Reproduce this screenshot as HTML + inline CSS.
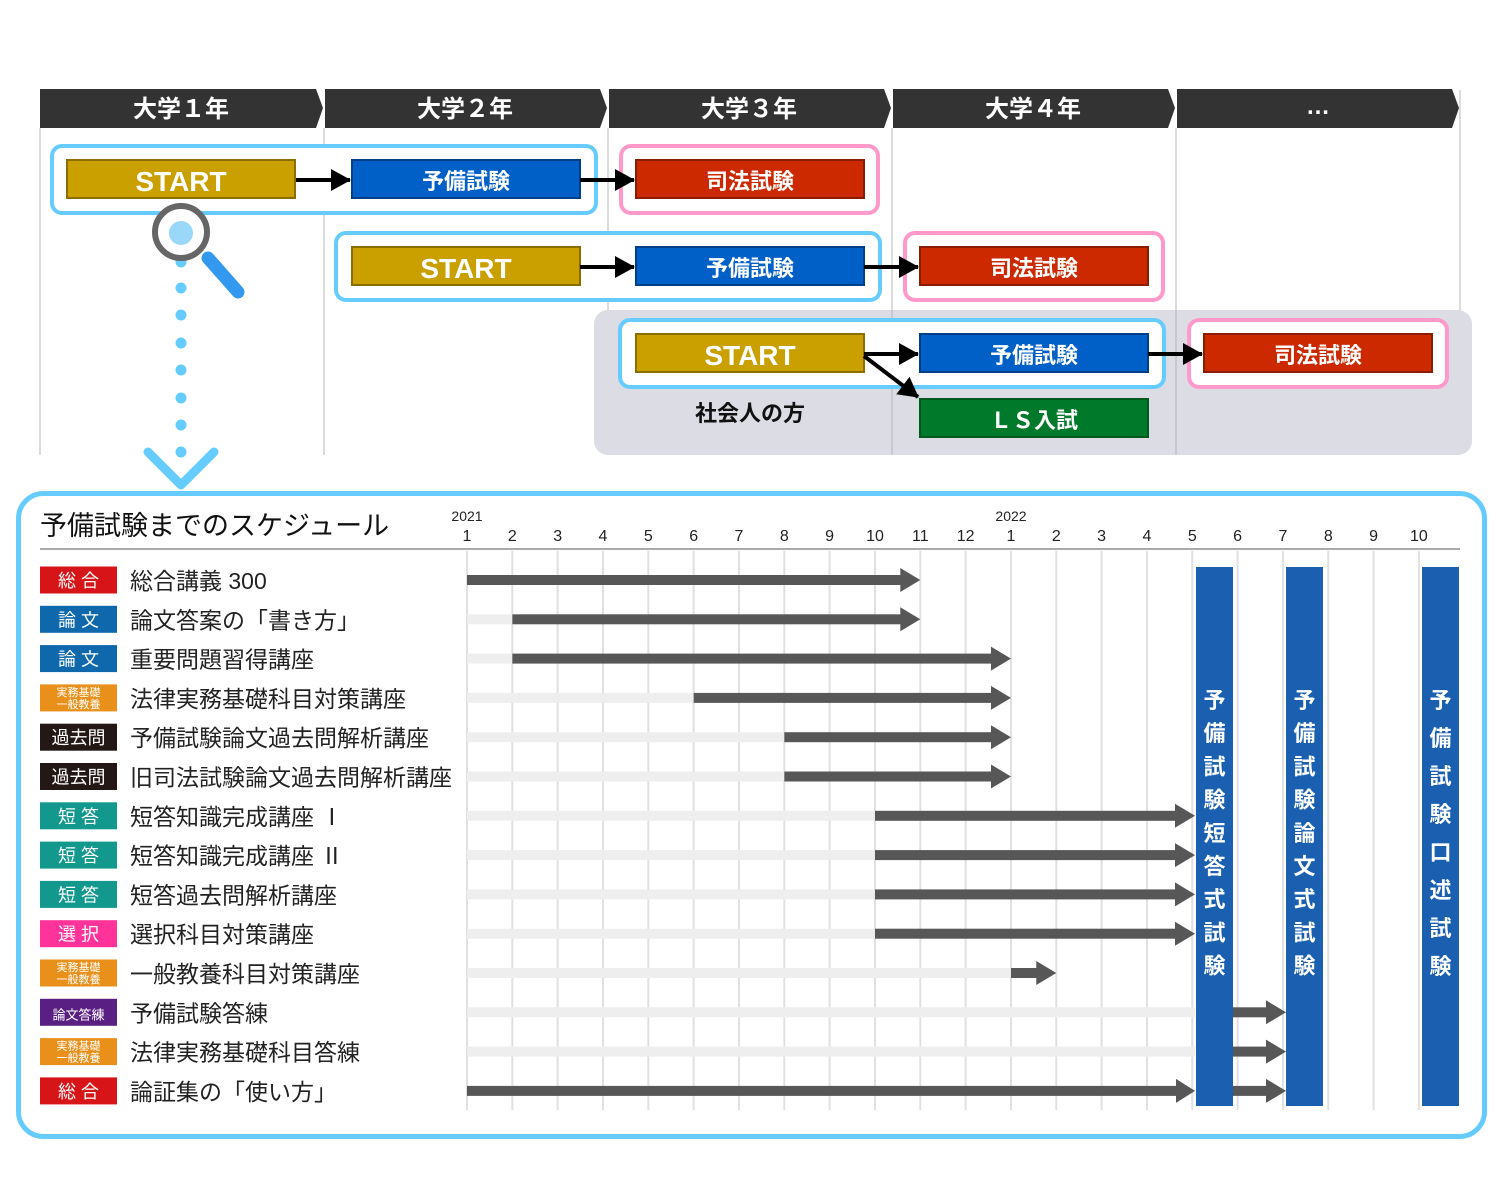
<!DOCTYPE html>
<html><head><meta charset="utf-8"><style>
html,body{margin:0;padding:0;background:#fff}
svg{display:block}
text{font-family:"Liberation Sans","Noto Sans CJK JP",sans-serif}
.b{font-weight:bold}
</style></head><body>
<svg width="1500" height="1184" viewBox="0 0 1500 1184" xmlns="http://www.w3.org/2000/svg">
<defs>
<marker id="ah" markerWidth="20" markerHeight="22" refX="19" refY="11" orient="auto" markerUnits="userSpaceOnUse" viewBox="0 0 20 22"><path d="M0,0 L20,11 L0,22z" fill="#000"/></marker>
</defs>
<g stroke="#dcdcdc" stroke-width="2">
<line x1="40" y1="128" x2="40" y2="455"/><line x1="324" y1="128" x2="324" y2="455"/>
<line x1="608" y1="128" x2="608" y2="455"/><line x1="892" y1="128" x2="892" y2="455"/>
<line x1="1176" y1="128" x2="1176" y2="455"/><line x1="1460" y1="90" x2="1460" y2="455"/>
</g>
<g fill="#333">
<path d="M40,89 H316 L323,108 L316,128 H40z"/>
<path d="M325,89 H600 L607,108 L600,128 H325z"/>
<path d="M609,89 H884 L891,108 L884,128 H609z"/>
<path d="M893,89 H1168 L1175,108 L1168,128 H893z"/>
<path d="M1177,89 H1452 L1459,108 L1452,128 H1177z"/>
</g>
<g fill="#fff" font-size="24" class="b" text-anchor="middle">
<text x="181" y="117" class="b">大学１年</text>
<text x="465" y="117" class="b">大学２年</text>
<text x="749" y="117" class="b">大学３年</text>
<text x="1033" y="117" class="b">大学４年</text>
<text x="1318" y="114" class="b">…</text>
</g>
<rect x="594" y="310" width="878" height="145" rx="14" fill="#dcdce4"/>
<line x1="892" y1="310" x2="892" y2="455" stroke="#c8c8d0" stroke-width="2"/>
<line x1="1176" y1="310" x2="1176" y2="455" stroke="#c8c8d0" stroke-width="2"/>
<g fill="#fff" stroke-width="4">
<rect x="52" y="146" width="544" height="67" rx="10" stroke="#66ccff"/>
<rect x="621" y="146" width="257" height="67" rx="10" stroke="#ff99cc"/>
<rect x="336" y="233" width="544" height="67" rx="10" stroke="#66ccff"/>
<rect x="905" y="233" width="258" height="67" rx="10" stroke="#ff99cc"/>
<rect x="620" y="320" width="544" height="67" rx="10" stroke="#66ccff"/>
<rect x="1189" y="320" width="258" height="67" rx="10" stroke="#ff99cc"/>
</g>
<g stroke-width="2">
<rect x="67" y="160" width="228" height="38" fill="#c9a000" stroke="#8a6e00"/>
<rect x="352" y="160" width="228" height="38" fill="#0060c8" stroke="#003f88"/>
<rect x="636" y="160" width="228" height="38" fill="#cc2900" stroke="#8a1c00"/>
<rect x="352" y="247" width="228" height="38" fill="#c9a000" stroke="#8a6e00"/>
<rect x="636" y="247" width="228" height="38" fill="#0060c8" stroke="#003f88"/>
<rect x="920" y="247" width="228" height="38" fill="#cc2900" stroke="#8a1c00"/>
<rect x="636" y="334" width="228" height="38" fill="#c9a000" stroke="#8a6e00"/>
<rect x="920" y="334" width="228" height="38" fill="#0060c8" stroke="#003f88"/>
<rect x="1204" y="334" width="228" height="38" fill="#cc2900" stroke="#8a1c00"/>
<rect x="920" y="399" width="228" height="38" fill="#007a2a" stroke="#005a1e"/>
</g>
<g fill="#fff" text-anchor="middle">
<text x="181" y="191" font-size="28" class="b">START</text>
<text x="466" y="189" font-size="22" class="b">予備試験</text>
<text x="750" y="189" font-size="22" class="b">司法試験</text>
<text x="466" y="278" font-size="28" class="b">START</text>
<text x="750" y="276" font-size="22" class="b">予備試験</text>
<text x="1034" y="276" font-size="22" class="b">司法試験</text>
<text x="750" y="365" font-size="28" class="b">START</text>
<text x="1034" y="363" font-size="22" class="b">予備試験</text>
<text x="1318" y="363" font-size="22" class="b">司法試験</text>
<text x="1034" y="428" font-size="22" class="b">ＬＳ入試</text>
</g>
<text x="750" y="421" font-size="22" class="b" text-anchor="middle" fill="#111">社会人の方</text>
<g stroke="#000" stroke-width="4" marker-end="url(#ah)">
<line x1="296" y1="180" x2="350" y2="180"/>
<line x1="580" y1="180" x2="634" y2="180"/>
<line x1="580" y1="267" x2="634" y2="267"/>
<line x1="864" y1="267" x2="918" y2="267"/>
<line x1="864" y1="354" x2="918" y2="354"/>
<line x1="1148" y1="354" x2="1202" y2="354"/>
<line x1="864" y1="356" x2="918" y2="397"/>
</g>
<g fill="#66ccff">
<circle cx="181" cy="262" r="5.5"/><circle cx="181" cy="288" r="5.5"/><circle cx="181" cy="315" r="5.5"/><circle cx="181" cy="343" r="5.5"/><circle cx="181" cy="370" r="5.5"/><circle cx="181" cy="398" r="5.5"/><circle cx="181" cy="425" r="5.5"/><circle cx="181" cy="452" r="5.5"/>
</g>
<path d="M148,452 L181,485 L214,452" fill="none" stroke="#66ccff" stroke-width="9" stroke-linecap="round" stroke-linejoin="round"/>
<line x1="208" y1="258" x2="238" y2="292" stroke="#3399ee" stroke-width="13" stroke-linecap="round"/>
<circle cx="181" cy="232" r="26" fill="#fff" stroke="#666" stroke-width="6"/>
<circle cx="181" cy="233" r="12" fill="#99d8f8"/>
<rect x="18.5" y="493.5" width="1466" height="643" rx="25" fill="#fff" stroke="#66ccff" stroke-width="5"/>
<text x="40" y="535" font-size="27" fill="#111">予備試験までのスケジュール</text>
<line x1="40" y1="549" x2="1460" y2="549" stroke="#aaa" stroke-width="2"/>
<g stroke="#e0e0e0" stroke-width="2" id="grid"></g>
<g font-size="16" fill="#222" text-anchor="middle" id="months"></g>
<text x="467" y="521" font-size="14" fill="#222" text-anchor="middle">2021</text>
<text x="1011" y="521" font-size="14" fill="#222" text-anchor="middle">2022</text>
<g id="rows"></g>
<rect x="1196" y="567" width="37" height="539" fill="#1a5fb0"/>
<rect x="1286" y="567" width="37" height="539" fill="#1a5fb0"/>
<rect x="1422" y="567" width="37" height="539" fill="#1a5fb0"/>
<g id="vt" fill="#fff" font-size="22" class="b" text-anchor="middle"></g>
</svg>
<script>
var NS="http://www.w3.org/2000/svg";
function el(p,t,a,txt){var e=document.createElementNS(NS,t);for(var k in a)e.setAttribute(k,a[k]);if(txt!=null)e.textContent=txt;document.getElementById(p).appendChild(e);return e;}
var mx=function(i){return 467+i*45.33;};
var lbl=[1,2,3,4,5,6,7,8,9,10,11,12,1,2,3,4,5,6,7,8,9,10];
for(var i=0;i<22;i++){el("grid","line",{x1:mx(i),y1:551,x2:mx(i),y2:1110});el("months","text",{x:mx(i),y:541},lbl[i]);}
var C={sg:"#d71518",rb:"#0f68ac",jm:"#e8901a",kk:"#231815",td:"#12988c",sn:"#ff3399",rt:"#5a1f82"};
var rows=[
["sg","総 合","総合講義 300",0,10],
["rb","論 文","論文答案の「書き方」",1,10],
["rb","論 文","重要問題習得講座",1,12],
["jm","","法律実務基礎科目対策講座",5,12],
["kk","過去問","予備試験論文過去問解析講座",7,12],
["kk","過去問","旧司法試験論文過去問解析講座",7,12],
["td","短 答","短答知識完成講座 Ⅰ",9,16.06],
["td","短 答","短答知識完成講座 Ⅱ",9,16.06],
["td","短 答","短答過去問解析講座",9,16.06],
["sn","選 択","選択科目対策講座",9,16.06],
["jm","","一般教養科目対策講座",12,13],
["rt","論文答練","予備試験答練",16.86,18.06],
["jm","","法律実務基礎科目答練",16.86,18.06],
["sg","総 合","論証集の「使い方」",0,16.06]];
rows.forEach(function(r,i){
 var y=580+i*39.3;
 el("rows","rect",{x:40,y:y-13.5,width:77,height:27,fill:C[r[0]]});
 if(r[0]=="jm"){
  el("rows","text",{x:78.5,y:y-2,"font-size":11,fill:"#fff","text-anchor":"middle"},"実務基礎");
  el("rows","text",{x:78.5,y:y+10,"font-size":11,fill:"#fff","text-anchor":"middle"},"一般教養");
 } else {
  el("rows","text",{x:78.5,y:y+7,"font-size":r[1].length>3?13:18,fill:"#fff","text-anchor":"middle"},r[1]);
 }
 el("rows","text",{x:130,y:y+9,"font-size":23,fill:"#222"},r[2]);
 if(r[3]>0 && i<11) el("rows","rect",{x:467,y:y-5,width:mx(r[3])-467,height:10,fill:"#eeeeee"});
 if(i==11||i==12) el("rows","rect",{x:467,y:y-5,width:1195-467,height:10,fill:"#eeeeee"});
 var sx=mx(r[3]), ex=mx(r[4]);
 if(i==11||i==12){sx=1233;ex=1286;}
 if(i==13){
  el("rows","rect",{x:467,y:y-5,width:1176-467,height:10,fill:"#585757"});
  el("rows","path",{d:"M1176,"+(y-12)+" L1195,"+y+" L1176,"+(y+12)+"z",fill:"#585757"});
  sx=1233;ex=1286;
 }
 el("rows","rect",{x:sx,y:y-5,width:ex-19-sx,height:10,fill:"#585757"});
 el("rows","path",{d:"M"+(ex-20)+","+(y-12)+" L"+ex+","+y+" L"+(ex-20)+","+(y+12)+"z",fill:"#585757"});
});
function vt(x,s,y0,d){for(var i=0;i<s.length;i++)el("vt","text",{x:x,y:y0+i*d},s[i]);}
vt(1214.5,"予備試験短答式試験",708,33.2);
vt(1304.5,"予備試験論文式試験",708,33.2);
vt(1440.5,"予備試験口述試験",708,38);
</script>
</body></html>
